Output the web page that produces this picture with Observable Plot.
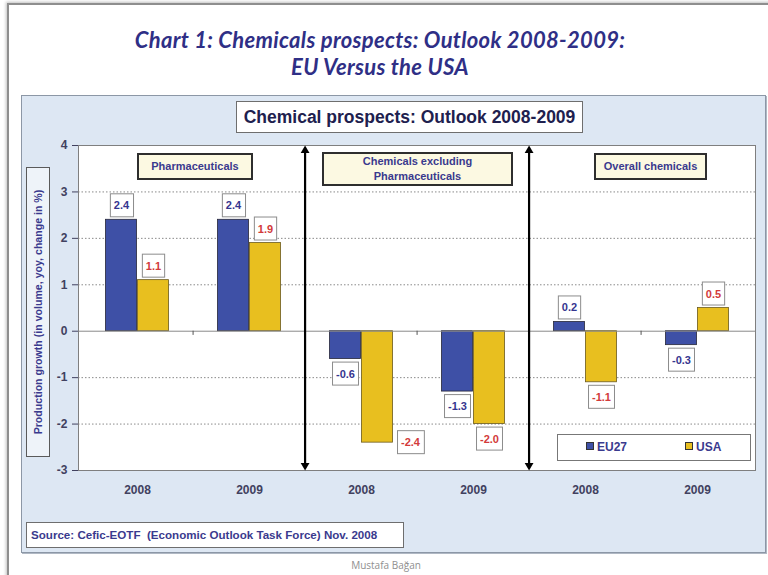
<!DOCTYPE html>
<html>
<head>
<meta charset="utf-8">
<script src="https://cdn.jsdelivr.net/npm/d3@7"></script>
<script src="https://cdn.jsdelivr.net/npm/@observablehq/plot@0.6"></script>
<style>
  body { margin: 0; background: #fff; }
  #wrap { position: relative; width: 768px; height: 575px; overflow: hidden; background: #fff;
          font-family: "Liberation Sans", Arial, sans-serif; }
  .abs { position: absolute; box-sizing: border-box; }
  #page { left: 7px; top: 3px; width: 800px; height: 600px; border-left: 2px solid #8e8e8e; border-top: 2px solid #8e8e8e;
          box-shadow: -1px -1px 3px rgba(0,0,0,0.25); }
  .title { left: 0; width: 760px; text-align: center; font-family: Lato, "Open Sans", sans-serif; font-style: italic;
           font-weight: 700; font-size: 22px; letter-spacing: 0.3px; line-height: 1; color: #2f2f86; white-space: nowrap; }
  #panel { left: 21px; top: 95px; width: 745px; height: 458px; background: #dde7f3; border: 1px solid #8c97a6;
           box-shadow: 1px 1px 0 #b0b8c4; }
  #ctitle { left: 236px; top: 101px; width: 347px; height: 32px; background: #fff; border: 1px solid #6e6e6e;
            font-weight: bold; font-size: 17.5px; color: #20204e; text-align: center; line-height: 30px; white-space: nowrap; }
  #ylab { left: 26px; top: 167px; width: 24px; height: 290px; background: #eef3f9; border: 1px solid #5a5a5a; }
  #ylab span { position: absolute; left: 50%; top: 50%; transform: translate(-50%, -50%) rotate(-90deg);
               white-space: nowrap; font-weight: bold; font-size: 10.6px; color: #3a3a8e; }
  .grp { background: #fcf9e2; border: 2px solid #2e2e2e; font-weight: bold; font-size: 11px; color: #3a3a8e;
         text-align: center; display: flex; align-items: center; justify-content: center; line-height: 15px; }
  #source { left: 26px; top: 522px; width: 378px; height: 26px; background: #fff; border: 1px solid #6e6e6e;
            font-weight: bold; font-size: 11.6px; color: #3a3a8e; line-height: 24px; padding-left: 4px; white-space: pre; }
  #legend { left: 557px; top: 434px; width: 194px; height: 27px; background: #fff; border: 1.5px solid #777;
            font-weight: bold; font-size: 12px; color: #3a3a8e; }
  .li { position: absolute; top: 5px; line-height: 14px; white-space: nowrap; }
  .sw { display: inline-block; width: 6px; height: 6px; border: 1px solid #333; margin-right: 3px; vertical-align: 1px; }
  #author { left: 0; width: 772px; top: 558px; text-align: center; font-family: "Open Sans", sans-serif; font-size: 10px; color: #8f8f8f; }
  #chart { left: 0; top: 0; }
</style>
</head>
<body>
<div id="wrap">
  <div id="page" class="abs"></div>
  <div class="abs title" style="top:29px">Chart 1: Chemicals prospects: Outlook 2008-2009:</div>
  <div class="abs title" style="top:55.5px">EU Versus the USA</div>
  <div id="panel" class="abs"></div>
  <div id="chart" class="abs"></div>
  <div id="ctitle" class="abs"></div>
  <div id="ylab" class="abs"><span></span></div>
  <div id="source" class="abs"></div>
  <div id="legend" class="abs"></div>
  <div id="author" class="abs">Mustafa Bağan</div>
</div>
<script>
// ---------------- data ----------------
const chartTitle = "Chemical prospects: Outlook 2008-2009";
const yLabel = "Production growth (in volume, yoy, change in %)";
const sourceText = "Source: Cefic-EOTF  (Economic Outlook Task Force) Nov. 2008";
const groups = ["Pharmaceuticals", "Chemicals excluding Pharmaceuticals", "Overall chemicals"];
const groupLines = [["Pharmaceuticals"], ["Chemicals excluding", "Pharmaceuticals"], ["Overall chemicals"]];
const years = ["2008", "2009"];
const seriesNames = ["EU27", "USA"];
const eu27 = [2.4, 2.4, -0.6, -1.3, 0.2, -0.3];
const usa = [1.1, 1.9, -2.4, -2.0, -1.1, 0.5];
const yTicks = [-3, -2, -1, 0, 1, 2, 3, 4];

// ---------------- styles ----------------
const euColor = "#3e50a6", usaColor = "#e8bf1f";
const euText = "#35358f", usaText = "#d23a3a";

// ---------------- layout ----------------
const W = 768, H = 575, ML = 78, MR = 13, MT = 145, MB = 105;
const keys = groups.flatMap(g => years.map(y => g + "|" + y));
const bw = (W - ML - MR) / keys.length;
const barW = 32;

const rows = [];
keys.forEach((k, i) => {
  rows.push({key: k, series: seriesNames[0], value: eu27[i]});
  rows.push({key: k, series: seriesNames[1], value: usa[i]});
});
const euRows = rows.filter(d => d.series === "EU27");
const usaRows = rows.filter(d => d.series === "USA");
const fmt = v => v.toFixed(1);
const sideLabel = d => d.value < -2.2; // label would collide with the axis -> put beside the bar

const boundaries = keys.slice(1);
const separators = [keys[2], keys[4]];
const innerPad = (bw - 2 * barW) / 2;

const plot = Plot.plot({
  width: W, height: H,
  marginLeft: ML, marginRight: MR, marginTop: MT, marginBottom: MB,
  style: {background: "transparent", fontFamily: "'Liberation Sans', Arial, sans-serif", fontSize: "12px",
          fontWeight: "bold", color: "#41415f", overflow: "visible"},
  x: {domain: keys, padding: 0, tickFormat: k => k.split("|")[1], tickSize: 0, tickPadding: 15, label: null},
  y: {domain: [-3, 4], ticks: yTicks, tickFormat: d => String(d), tickSize: 6, tickPadding: 5, label: null},
  marks: [
    Plot.frame({fill: "white", stroke: "none"}),
    Plot.ruleY(yTicks.filter(t => t !== 0 && t !== 4 && t !== -3), {stroke: "#8a8a8a", strokeDasharray: "1.5,2"}),
    Plot.barY(euRows, {x: "key", y: "value", fill: euColor, stroke: "#2a2a3a", strokeWidth: 0.8,
                       insetLeft: innerPad, insetRight: innerPad + barW}),
    Plot.barY(usaRows, {x: "key", y: "value", fill: usaColor, stroke: "#6a5a20", strokeWidth: 0.8,
                        insetLeft: innerPad + barW, insetRight: innerPad}),
    Plot.ruleY([0], {stroke: "#8a8a8a"}),
    Plot.ruleX(boundaries, {x: d => d, y1: d => 0, y2: d => -0.09, dx: -bw / 2, stroke: "#555"}),
    Plot.frame({stroke: "#7f7f7f"}),
    // separators (double-headed arrows)
    Plot.link(separators, {x1: d => d, x2: d => d, y1: d => -2.9, y2: d => 3.9, dx: -bw / 2, stroke: "black", strokeWidth: 2.2}),
    Plot.dot(separators, {x: d => d, y: d => 4, dx: -bw / 2, dy: 5, symbol: "triangle2", r: 4.2, fill: "black", stroke: "none"}),
    Plot.dot(separators, {x: d => d, y: d => -3, dx: -bw / 2, dy: -5, symbol: "triangle2", rotate: 180, r: 4.2, fill: "black", stroke: "none"}),
    // value labels
    Plot.text(euRows.filter(d => d.value >= 0), {x: "key", y: "value", text: d => fmt(d.value), dx: -barW / 2, dy: -14, fill: euText, fontSize: 11}),
    Plot.text(euRows.filter(d => d.value < 0 && !sideLabel(d)), {x: "key", y: "value", text: d => fmt(d.value), dx: -barW / 2, dy: 15, fill: euText, fontSize: 11}),
    Plot.text(usaRows.filter(d => d.value >= 0), {x: "key", y: "value", text: d => fmt(d.value), dx: barW / 2, dy: -14, fill: usaText, fontSize: 11}),
    Plot.text(usaRows.filter(d => d.value < 0 && !sideLabel(d)), {x: "key", y: "value", text: d => fmt(d.value), dx: barW / 2, dy: 15, fill: usaText, fontSize: 11}),
    Plot.text(usaRows.filter(d => sideLabel(d)), {x: "key", y: "value", text: d => fmt(d.value), dx: barW / 2 + 33, dy: 0, fill: usaText, fontSize: 11})
  ]
});
document.getElementById("chart").appendChild(plot);

// boxes behind the value labels
plot.querySelectorAll("text").forEach(t => {
  const f = (t.closest("[fill]") || t).getAttribute("fill");
  if (f !== euText && f !== usaText) return;
  const b = t.getBBox();
  const r = document.createElementNS("http://www.w3.org/2000/svg", "rect");
  r.setAttribute("x", b.x - 3.5); r.setAttribute("y", b.y - 5.5);
  r.setAttribute("width", b.width + 7); r.setAttribute("height", b.height + 11);
  r.setAttribute("fill", "white"); r.setAttribute("stroke", "#8c8c8c"); r.setAttribute("stroke-width", 1);
  if (t.getAttribute("transform")) r.setAttribute("transform", t.getAttribute("transform"));
  t.parentNode.insertBefore(r, t);
});

// html annotations
document.getElementById("ctitle").textContent = chartTitle;
document.querySelector("#ylab span").textContent = yLabel;
document.getElementById("source").textContent = sourceText;
const grpBoxes = [
  {left: 137, top: 153, width: 116, height: 27},
  {left: 322, top: 152, width: 191, height: 34},
  {left: 594, top: 153, width: 113, height: 27}
];
const wrap = document.getElementById("wrap");
groupLines.forEach((lines, i) => {
  const d = document.createElement("div");
  d.className = "abs grp";
  const b = grpBoxes[i];
  Object.assign(d.style, {left: b.left + "px", top: b.top + "px", width: b.width + "px", height: b.height + "px"});
  d.innerHTML = lines.join("<br>");
  wrap.appendChild(d);
});
const legend = document.getElementById("legend");
[[euColor, 28], [usaColor, 127]].forEach(([c, x], i) => {
  const s = document.createElement("div");
  s.className = "li";
  s.style.left = x + "px";
  s.innerHTML = `<span class="sw" style="background:${c}"></span>${seriesNames[i]}`;
  legend.appendChild(s);
});
</script>
</body>
</html>
